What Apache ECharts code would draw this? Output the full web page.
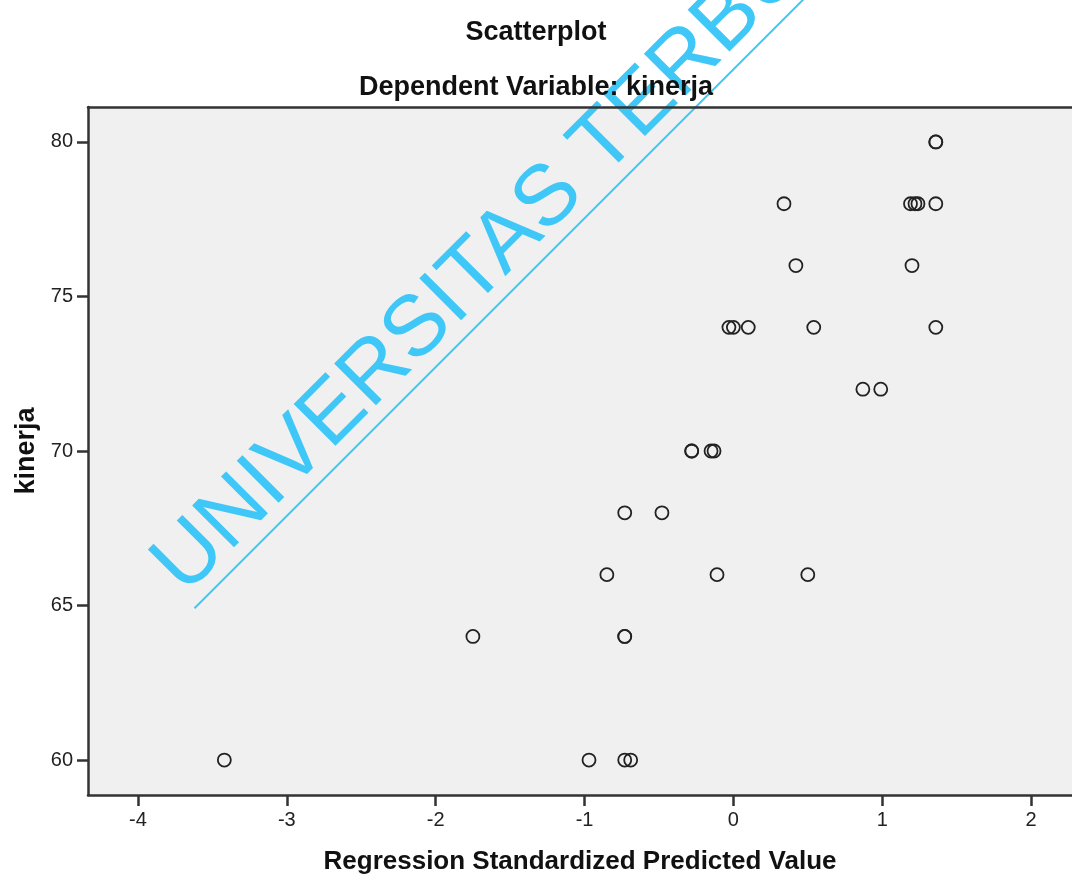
<!DOCTYPE html>
<html>
<head>
<meta charset="utf-8">
<script src="https://cdn.jsdelivr.net/npm/echarts@6/dist/echarts.min.js"></script>
<style>
  html, body { margin: 0; padding: 0; background: #fff; }
  #chart { width: 1072px; height: 874px; }
</style>
</head>
<body>
<div id="chart"></div>
<script>
// predicted value (x) and kinerja (y)
const predicted = [
  1.36, 1.36,
  0.34, 1.19, 1.22, 1.24, 1.36,
  0.42, 1.20,
  -0.03, 0.00, 0.10, 0.54, 1.36,
  0.87, 0.99,
  -0.28, -0.28, -0.15, -0.13,
  -0.73, -0.48,
  -0.85, -0.11, 0.50,
  -1.75, -0.73, -0.73,
  -3.42, -0.97, -0.73, -0.69
];
const kinerja = [
  80, 80,
  78, 78, 78, 78, 78,
  76, 76,
  74, 74, 74, 74, 74,
  72, 72,
  70, 70, 70, 70,
  68, 68,
  66, 66, 66,
  64, 64, 64,
  60, 60, 60, 60
];
const xTicks = [-4, -3, -2, -1, 0, 1, 2];
const yTicks = [60, 65, 70, 75, 80];

const points = predicted.map((x, i) => [x, kinerja[i]]);

const chart = echarts.init(document.getElementById('chart'));
const axisColor = '#333';
const labelFont = { color: '#222', fontSize: 20, fontFamily: 'Liberation Sans, Arial, sans-serif' };

chart.setOption({
  animation: false,
  backgroundColor: '#ffffff',
  title: [
    {
      text: 'Scatterplot', left: 'center', top: 14, z: 10,
      textStyle: { fontSize: 27, fontWeight: 'bold', color: '#111', fontFamily: 'Liberation Sans, Arial, sans-serif' }
    },
    {
      text: 'Dependent Variable: kinerja', left: 'center', top: 69, z: 10,
      textStyle: { fontSize: 27, fontWeight: 'bold', color: '#111', fontFamily: 'Liberation Sans, Arial, sans-serif' }
    }
  ],
  grid: {
    left: 88, right: 0, top: 107, bottom: 79,
    outerBoundsMode: 'none',
    show: true, backgroundColor: '#f0f0f0', borderWidth: 0
  },
  xAxis: [
    {
      type: 'value', min: -4.336, max: 2.275,
      name: 'Regression Standardized Predicted Value',
      nameLocation: 'middle', nameGap: 54,
      nameTextStyle: { fontSize: 26, fontWeight: 'bold', color: '#111', fontFamily: 'Liberation Sans, Arial, sans-serif' },
      splitLine: { show: false },
      axisLine: { onZero: false, lineStyle: { color: axisColor, width: 2.5 } },
      axisTick: { customValues: xTicks, length: 11, lineStyle: { color: axisColor, width: 2.5 } },
      axisLabel: Object.assign({ customValues: xTicks, margin: 15 }, labelFont)
    },
    {
      type: 'value', position: 'top', min: -4.336, max: 2.275,
      splitLine: { show: false },
      axisLine: { onZero: false, lineStyle: { color: axisColor, width: 2.5 } },
      axisTick: { show: false },
      axisLabel: { show: false }
    }
  ],
  yAxis: {
    type: 'value', min: 58.87, max: 81.13,
    name: 'kinerja', nameLocation: 'middle', nameGap: 48, nameRotate: 90,
    nameTextStyle: { fontSize: 27, fontWeight: 'bold', color: '#111', fontFamily: 'Liberation Sans, Arial, sans-serif' },
    splitLine: { show: false },
    axisLine: { onZero: false, lineStyle: { color: axisColor, width: 2.5 } },
    axisTick: { customValues: yTicks, length: 11, lineStyle: { color: axisColor, width: 2.5 } },
    axisLabel: Object.assign({ customValues: yTicks, margin: 15 }, labelFont)
  },
  series: [{
    type: 'scatter',
    data: points,
    symbol: 'circle',
    symbolSize: 13,
    itemStyle: { color: 'rgba(0,0,0,0)', borderColor: '#222', borderWidth: 1.8, opacity: 1 }
  }],
  graphic: [{
    type: 'group',
    x: 186, y: 597,
    rotation: Math.PI / 4,
    z: 5,
    children: [
      {
        type: 'text', x: 0, y: 18,
        style: {
          text: 'UNIVERSITAS TERBUKA',
          fill: '#3fc8f7',
          font: '86px "Liberation Sans", Arial, sans-serif',
          verticalAlign: 'bottom'
        }
      },
      {
        type: 'line',
        shape: { x1: -2, y1: 14, x2: 1400, y2: 14 },
        style: { stroke: '#3fc8f7', lineWidth: 2 }
      }
    ]
  }]
});
</script>
</body>
</html>
